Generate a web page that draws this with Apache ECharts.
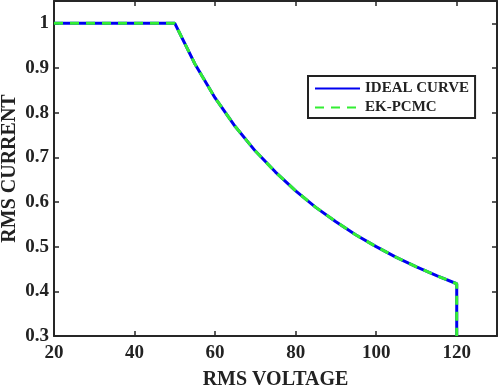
<!DOCTYPE html>
<html><head><meta charset="utf-8">
<script src="https://cdn.jsdelivr.net/npm/echarts@6/dist/echarts.min.js"></script>
<style>html,body{margin:0;padding:0;background:#fff}#c{width:499px;height:386px}</style>
</head><body><div id="c"></div>
<script>
const voltage = [20, 50, 55, 60, 65, 70, 75, 80, 85, 90, 95, 100, 105, 110, 115, 120, 120];
const idealCurrent = [1, 1, 0.909, 0.833, 0.769, 0.714, 0.667, 0.625, 0.588, 0.556, 0.526, 0.5, 0.476, 0.455, 0.435, 0.417, 0.3];
const ekCurrent = [1, 1, 0.909, 0.833, 0.769, 0.714, 0.667, 0.625, 0.588, 0.556, 0.526, 0.5, 0.476, 0.455, 0.435, 0.417, 0.3];
const seriesNames = ['IDEAL CURVE', 'EK-PCMC'];
const xTitle = 'RMS VOLTAGE';
const yTitle = 'RMS CURRENT';

const font = '"Liberation Serif", "Times New Roman", serif';
const axisCol = '#262626';
const chart = echarts.init(document.getElementById('c'));
const pair = arr => voltage.map((v, i) => [v, arr[i]]);
const baseAxis = {
  axisLine: {show: true, onZero: false, lineStyle: {color: axisCol, width: 2}},
  axisTick: {show: true, inside: true, length: 5, lineStyle: {color: axisCol, width: 1.5}},
  splitLine: {show: false}
};
chart.setOption({
  animation: false,
  grid: {left: 54, right: 2, top: 1, bottom: 50, containLabel: false, outerBoundsMode: 'none'},
  legend: {
    left: 308, top: 76, orient: 'vertical', width: 169,
    data: seriesNames,
    borderColor: '#222', borderWidth: 2,
    padding: [5, 6, 3, 6], itemGap: 4,
    itemWidth: 45, itemHeight: 14,
    itemStyle: {opacity: 0},
    textStyle: {fontFamily: font, fontWeight: 'bold', fontSize: 15, color: '#222'}
  },
  xAxis: [
    Object.assign({}, baseAxis, {
      type: 'value', min: 20, max: 130, interval: 20,
      name: xTitle, nameLocation: 'middle', nameGap: 34,
      nameTextStyle: {fontFamily: font, fontWeight: 'bold', fontSize: 20, color: '#222'},
      axisLabel: {showMaxLabel: false, margin: 8, fontFamily: font, fontWeight: 'bold', fontSize: 19, color: '#222'}
    }),
    Object.assign({}, baseAxis, {
      type: 'value', min: 20, max: 130, interval: 20, position: 'top',
      axisLabel: {show: false}
    })
  ],
  yAxis: [
    Object.assign({}, baseAxis, {
      type: 'value', min: 0.3, max: 1.05, interval: 0.1,
      name: yTitle, nameLocation: 'middle', nameGap: 34, nameMoveOverlap: false,
      nameTextStyle: {fontFamily: font, fontWeight: 'bold', fontSize: 20, color: '#222'},
      axisLabel: {showMaxLabel: false, margin: 5, fontFamily: font, fontWeight: 'bold', fontSize: 19, color: '#222',
        formatter: v => String(Math.round(v * 10) / 10)}
    }),
    Object.assign({}, baseAxis, {
      type: 'value', min: 0.3, max: 1.05, interval: 0.1, position: 'right',
      axisLabel: {show: false}
    })
  ],
  series: [
    {name: seriesNames[0], type: 'line', data: pair(idealCurrent), symbol: 'none', clip: true,
      lineStyle: {color: '#0000f0', width: 3}, itemStyle: {color: '#0000f0'}},
    {name: seriesNames[1], type: 'line', data: pair(ekCurrent), symbol: 'none', clip: true,
      lineStyle: {color: '#33ee33', width: 3, type: [9, 7]}, itemStyle: {color: '#33ee33'}}
  ]
});
</script></body></html>
